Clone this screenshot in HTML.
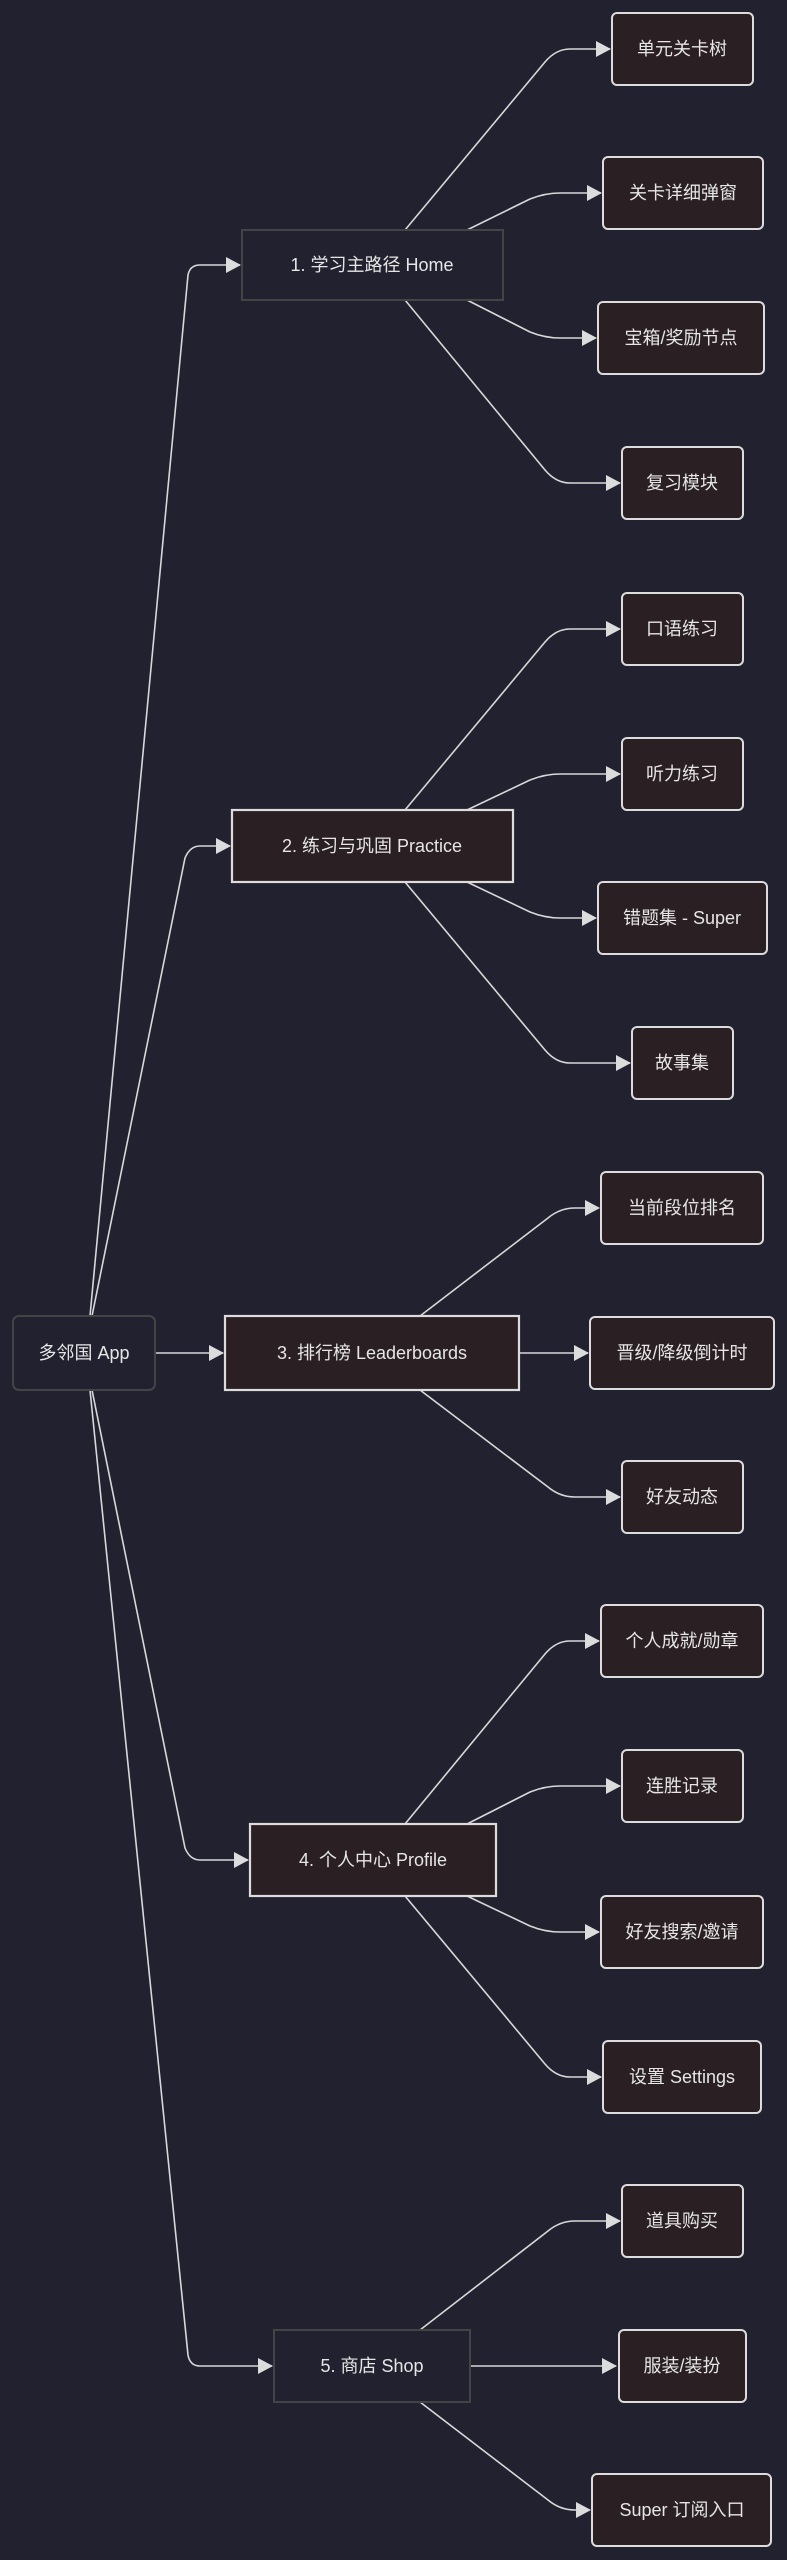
<!DOCTYPE html>
<html><head><meta charset="utf-8"><style>
html,body{margin:0;padding:0;background:#22212f;}
svg{display:block}
text{font-family:"Liberation Sans","Noto Sans CJK SC",sans-serif;font-size:18px;fill:#e6e6e6;text-anchor:middle;dominant-baseline:central}
.e{fill:none;stroke:#d8d8d8;stroke-width:1.6}
.leaf{fill:#2a1f23;stroke:#dcdcdc;stroke-width:2}
.nav{fill:#22212f;stroke:#444;stroke-width:2}
.br{fill:#2a1f23;stroke:#dcdcdc;stroke-width:2.2}
</style></head><body>
<svg width="787" height="2560" viewBox="0 0 787 2560" xmlns="http://www.w3.org/2000/svg">
<defs><marker id="a" markerWidth="16" markerHeight="16" refX="14" refY="8" orient="auto" markerUnits="userSpaceOnUse"><path d="M0,0 L15,8 L0,16 z" fill="#dcdcdc"/></marker></defs>
<path class="e" marker-end="url(#a)" d="M90 1316 L188 275 Q190 265 200 265 L240 265"/>
<path class="e" marker-end="url(#a)" d="M92 1316 L185 858 Q190 846 200 846 L230 846"/>
<path class="e" marker-end="url(#a)" d="M155 1353 L223 1353"/>
<path class="e" marker-end="url(#a)" d="M92 1390 L185 1848 Q190 1860 200 1860 L248 1860"/>
<path class="e" marker-end="url(#a)" d="M90 1390 L188 2355 Q190 2366 200 2366 L272 2366"/>
<path class="e" marker-end="url(#a)" d="M405 230 L545 62 Q556 49 570 49 L610 49"/>
<path class="e" marker-end="url(#a)" d="M467 230 L530 199 Q545 193 560 193 L601 193"/>
<path class="e" marker-end="url(#a)" d="M467 300 L530 332 Q545 338 560 338 L596 338"/>
<path class="e" marker-end="url(#a)" d="M405 300 L545 470 Q556 483 570 483 L620 483"/>
<path class="e" marker-end="url(#a)" d="M405 810 L545 642 Q556 629 570 629 L620 629"/>
<path class="e" marker-end="url(#a)" d="M467 810 L530 780 Q545 774 560 774 L620 774"/>
<path class="e" marker-end="url(#a)" d="M467 882 L530 912 Q545 918 560 918 L596 918"/>
<path class="e" marker-end="url(#a)" d="M405 882 L545 1050 Q556 1063 570 1063 L630 1063"/>
<path class="e" marker-end="url(#a)" d="M420 1316 L548 1218 Q560 1208 575 1208 L599 1208"/>
<path class="e" marker-end="url(#a)" d="M519 1353 L588 1353"/>
<path class="e" marker-end="url(#a)" d="M420 1390 L548 1487 Q560 1497 575 1497 L620 1497"/>
<path class="e" marker-end="url(#a)" d="M405 1824 L545 1654 Q556 1641 570 1641 L599 1641"/>
<path class="e" marker-end="url(#a)" d="M467 1824 L530 1792 Q545 1786 560 1786 L620 1786"/>
<path class="e" marker-end="url(#a)" d="M467 1896 L530 1926 Q545 1932 560 1932 L599 1932"/>
<path class="e" marker-end="url(#a)" d="M405 1896 L545 2064 Q556 2077 570 2077 L601 2077"/>
<path class="e" marker-end="url(#a)" d="M420 2330 L548 2231 Q560 2221 575 2221 L620 2221"/>
<path class="e" marker-end="url(#a)" d="M470 2366 L616 2366"/>
<path class="e" marker-end="url(#a)" d="M420 2402 L548 2500 Q560 2510 575 2510 L590 2510"/>

<rect class="nav" x="13" y="1316" width="142" height="74" rx="6"/><text x="84" y="1353">多邻国 App</text>
<rect class="nav" x="242" y="230" width="261" height="70"/><text x="372" y="265">1. 学习主路径 Home</text>
<rect class="br" x="232" y="810" width="281" height="72"/><text x="372" y="846">2. 练习与巩固 Practice</text>
<rect class="br" x="225" y="1316" width="294" height="74"/><text x="372" y="1353">3. 排行榜 Leaderboards</text>
<rect class="br" x="250" y="1824" width="246" height="72"/><text x="373" y="1860">4. 个人中心 Profile</text>
<rect class="nav" x="274" y="2330" width="196" height="72"/><text x="372" y="2366">5. 商店 Shop</text>
<rect class="leaf" x="612" y="13" width="141" height="72" rx="5"/><text x="682" y="49">单元关卡树</text>
<rect class="leaf" x="603" y="157" width="160" height="72" rx="5"/><text x="683" y="193">关卡详细弹窗</text>
<rect class="leaf" x="598" y="302" width="166" height="72" rx="5"/><text x="681" y="338">宝箱/奖励节点</text>
<rect class="leaf" x="622" y="447" width="121" height="72" rx="5"/><text x="682" y="483">复习模块</text>
<rect class="leaf" x="622" y="593" width="121" height="72" rx="5"/><text x="682" y="629">口语练习</text>
<rect class="leaf" x="622" y="738" width="121" height="72" rx="5"/><text x="682" y="774">听力练习</text>
<rect class="leaf" x="598" y="882" width="169" height="72" rx="5"/><text x="682" y="918">错题集 - Super</text>
<rect class="leaf" x="632" y="1027" width="101" height="72" rx="5"/><text x="682" y="1063">故事集</text>
<rect class="leaf" x="601" y="1172" width="162" height="72" rx="5"/><text x="682" y="1208">当前段位排名</text>
<rect class="leaf" x="590" y="1317" width="184" height="72" rx="5"/><text x="682" y="1353">晋级/降级倒计时</text>
<rect class="leaf" x="622" y="1461" width="121" height="72" rx="5"/><text x="682" y="1497">好友动态</text>
<rect class="leaf" x="601" y="1605" width="162" height="72" rx="5"/><text x="682" y="1641">个人成就/勋章</text>
<rect class="leaf" x="622" y="1750" width="121" height="72" rx="5"/><text x="682" y="1786">连胜记录</text>
<rect class="leaf" x="601" y="1896" width="162" height="72" rx="5"/><text x="682" y="1932">好友搜索/邀请</text>
<rect class="leaf" x="603" y="2041" width="158" height="72" rx="5"/><text x="682" y="2077">设置 Settings</text>
<rect class="leaf" x="622" y="2185" width="121" height="72" rx="5"/><text x="682" y="2221">道具购买</text>
<rect class="leaf" x="619" y="2330" width="127" height="72" rx="5"/><text x="682" y="2366">服装/装扮</text>
<rect class="leaf" x="592" y="2474" width="179" height="72" rx="5"/><text x="682" y="2510">Super 订阅入口</text>
</svg>
</body></html>
